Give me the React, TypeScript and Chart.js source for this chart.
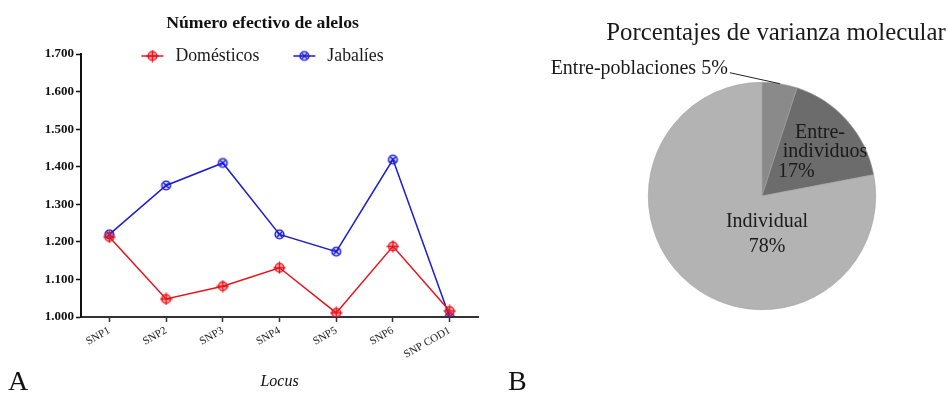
import React, { useEffect, useRef } from 'react';
import { Chart, registerables } from 'chart.js';

Chart.register(...registerables);

const SERIF = '"Liberation Serif", "Times New Roman", serif';

// ---- Data (chart A) ----
const loci = ['SNP1', 'SNP2', 'SNP3', 'SNP4', 'SNP5', 'SNP6', 'SNP COD1'];
const domesticos = [1.213, 1.048, 1.082, 1.131, 1.011, 1.188, 1.016];
const jabalies = [1.220, 1.350, 1.410, 1.220, 1.174, 1.419, 1.000];
const yTickValues = [1.0, 1.1, 1.2, 1.3, 1.4, 1.5, 1.6, 1.7];
const seriesNames = ['Domésticos', 'Jabalíes'];
const titleA = 'Número efectivo de alelos';
const axisTitleA = 'Locus';

// ---- Data (chart B) ----
const varianceLabels = ['Entre-poblaciones', 'Entre-individuos', 'Individual'];
const varianceValues = [5, 17, 78];
const titleB = 'Porcentajes de varianza molecular';

const RED = '#e8141c';
const BLUE = '#1c1cd0';
const pieColors = ['#8a8a8a', '#6c6c6c', '#b3b3b3'];

function makeMarker(color: string, kind: 'plus' | 'x'): HTMLCanvasElement {
  const size = 13;
  const c = document.createElement('canvas');
  c.width = size;
  c.height = size;
  const ctx = c.getContext('2d')!;
  const m = size / 2;
  ctx.strokeStyle = color;
  ctx.lineWidth = 1.4;
  ctx.fillStyle = kind === 'plus' ? 'rgba(232,20,28,0.35)' : 'rgba(28,28,208,0.2)';
  ctx.beginPath();
  ctx.arc(m, m, 4.4, 0, Math.PI * 2);
  ctx.fill();
  ctx.stroke();
  ctx.beginPath();
  if (kind === 'plus') {
    ctx.moveTo(m, 0.5);
    ctx.lineTo(m, size - 0.5);
    ctx.moveTo(0.5, m);
    ctx.lineTo(size - 0.5, m);
  } else {
    const d = 3;
    ctx.moveTo(m - d, m - d);
    ctx.lineTo(m + d, m + d);
    ctx.moveTo(m + d, m - d);
    ctx.lineTo(m - d, m + d);
  }
  ctx.stroke();
  return c;
}

// Title + legend of chart A, drawn above / overlapping the top of the plot area
const headerA = {
  id: 'headerA',
  afterDraw(chart: any) {
    const ctx = chart.ctx as CanvasRenderingContext2D;
    const ca = chart.chartArea;
    const center = (ca.left + ca.right) / 2 - 17;
    ctx.save();
    ctx.fillStyle = '#111';
    ctx.textAlign = 'center';
    ctx.textBaseline = 'middle';
    ctx.font = `bold 17.7px ${SERIF}`;
    ctx.fillText(titleA, center, ca.top - 31);

    const y = ca.top + 2;
    ctx.font = `17.8px ${SERIF}`;
    const lineW = 22, gapText = 12, gapItem = 34;
    const items = chart.data.datasets.map((ds: any) => ({
      ds,
      w: lineW + gapText + ctx.measureText(ds.label).width,
    }));
    const total = items.reduce((s: number, it: any) => s + it.w, 0) + gapItem * (items.length - 1);
    let x = center - total / 2;
    items.forEach((it: any) => {
      ctx.strokeStyle = it.ds.borderColor;
      ctx.lineWidth = 1.5;
      ctx.beginPath();
      ctx.moveTo(x, y);
      ctx.lineTo(x + lineW, y);
      ctx.stroke();
      const img = it.ds.pointStyle as HTMLCanvasElement;
      ctx.drawImage(img, x + lineW / 2 - img.width / 2, y - img.height / 2);
      ctx.fillStyle = '#1a1a1a';
      ctx.textAlign = 'left';
      ctx.textBaseline = 'middle';
      ctx.fillText(it.ds.label, x + lineW + gapText, y);
      x += it.w + gapItem;
    });
    ctx.restore();
  },
};

const pieLabels = {
  id: 'pieLabels',
  afterDraw(chart: any) {
    const ctx = chart.ctx as CanvasRenderingContext2D;
    const arcs = chart.getDatasetMeta(0).data as any[];
    const a0 = arcs[0];
    const cx = a0.x, cy = a0.y, r = a0.outerRadius;
    const labels = chart.data.labels as string[];
    const vals = chart.data.datasets[0].data as number[];
    ctx.save();
    ctx.fillStyle = '#1a1a1a';
    ctx.textBaseline = 'middle';
    // title
    ctx.font = `24.8px ${SERIF}`;
    ctx.textAlign = 'center';
    ctx.fillText(titleB, cx + 14, cy - r - 49);
    // slice 0 : outside with leader line
    const mid = (a0.startAngle + a0.endAngle) / 2;
    const ex = cx + Math.cos(mid) * r;
    const ey = cy + Math.sin(mid) * r;
    const lx = ex - 50, ly = ey - 11;
    ctx.strokeStyle = '#222';
    ctx.lineWidth = 1;
    ctx.beginPath();
    ctx.moveTo(ex, ey);
    ctx.lineTo(lx, ly);
    ctx.stroke();
    ctx.font = `20px ${SERIF}`;
    ctx.textAlign = 'right';
    ctx.fillText(`${labels[0]} ${vals[0]}%`, lx - 2, ly - 4);
    // slice 1 : inside, three lines
    ctx.font = `20px ${SERIF}`;
    const parts = labels[1].split('-');
    ctx.textAlign = 'center';
    ctx.fillText(parts[0] + '-', cx + 58, cy - 63);
    ctx.fillText(parts[1], cx + 63, cy - 44);
    ctx.textAlign = 'left';
    ctx.fillText(`${vals[1]}%`, cx + 16, cy - 24);
    // slice 2
    ctx.textAlign = 'center';
    ctx.fillText(labels[2], cx + 5, cy + 26);
    ctx.fillText(`${vals[2]}%`, cx + 5, cy + 51);
    ctx.restore();
  },
};

export default function App() {
  const lineRef = useRef<HTMLCanvasElement>(null);
  const pieRef = useRef<HTMLCanvasElement>(null);

  useEffect(() => {
    const redMarker = makeMarker(RED, 'plus');
    const blueMarker = makeMarker(BLUE, 'x');
    const lineChart = new Chart(lineRef.current!, {
      type: 'line',
      data: {
        labels: loci,
        datasets: [
          {
            label: seriesNames[0],
            data: domesticos,
            borderColor: RED,
            borderWidth: 1.5,
            pointStyle: redMarker as any,
            pointRadius: 5,
            tension: 0,
          },
          {
            label: seriesNames[1],
            data: jabalies,
            borderColor: BLUE,
            borderWidth: 1.5,
            pointStyle: blueMarker as any,
            pointRadius: 5,
            tension: 0,
          },
        ],
      },
      options: {
        animation: false,
        responsive: false,
        maintainAspectRatio: false,
        layout: { padding: { left: 34, right: 12, top: 54, bottom: 4 } },
        plugins: {
          legend: { display: false },
          tooltip: { enabled: false },
          title: { display: false },
        },
        scales: {
          x: {
            type: 'category',
            offset: true,
            grid: { display: true, drawOnChartArea: false, drawTicks: true, tickLength: 5, color: '#333', tickWidth: 1.5 },
            border: { display: true, color: '#333', width: 2 },
            ticks: {
              color: '#222',
              font: { family: SERIF, size: 11 },
              minRotation: 30,
              maxRotation: 30,
              padding: 2,
              autoSkip: false,
            },
            title: {
              display: true,
              text: axisTitleA,
              color: '#111',
              font: { family: SERIF, size: 16, style: 'italic' },
              padding: 0,
            },
            afterFit: (s: any) => {
              s.height = 74;
            },
          },
          y: {
            min: yTickValues[0],
            max: yTickValues[yTickValues.length - 1],
            afterBuildTicks: (s: any) => {
              s.ticks = yTickValues.map((v) => ({ value: v }));
            },
            ticks: {
              callback: (v: any) => Number(v).toFixed(3),
              color: '#111',
              font: { family: SERIF, size: 13, weight: 'bold' },
              padding: 2,
            },
            grid: { display: true, drawOnChartArea: false, tickLength: 5, color: '#111', tickWidth: 1.5 },
            border: { display: true, color: '#111', width: 2 },
            afterFit: (s: any) => {
              s.width = 47;
            },
          },
        },
      },
      plugins: [headerA],
    });

    const pieChart = new Chart(pieRef.current!, {
      type: 'pie',
      data: {
        labels: varianceLabels,
        datasets: [
          {
            data: varianceValues,
            backgroundColor: pieColors,
            borderColor: '#a0a0a0',
            borderWidth: 0.6,
          },
        ],
      },
      options: {
        animation: false,
        responsive: false,
        maintainAspectRatio: false,
        layout: { padding: { left: 158, right: 72, top: 82, bottom: 85 } },
        plugins: {
          legend: { display: false },
          tooltip: { enabled: false },
        },
      },
      plugins: [pieLabels],
    });

    return () => {
      lineChart.destroy();
      pieChart.destroy();
    };
  }, []);

  const letter: React.CSSProperties = {
    position: 'absolute',
    fontFamily: SERIF,
    fontSize: 28,
    lineHeight: '28px',
    color: '#111',
    top: 367,
  };

  return (
    <div style={{ position: 'fixed', left: 0, top: 0, width: 948, height: 395, background: '#fff', overflow: 'hidden' }}>
      <canvas ref={lineRef} width={490} height={395} style={{ position: 'absolute', left: 0, top: 0 }} />
      <canvas ref={pieRef} width={458} height={395} style={{ position: 'absolute', left: 490, top: 0 }} />
      <div style={{ ...letter, left: 8 }}>A</div>
      <div style={{ ...letter, left: 508 }}>B</div>
    </div>
  );
}
